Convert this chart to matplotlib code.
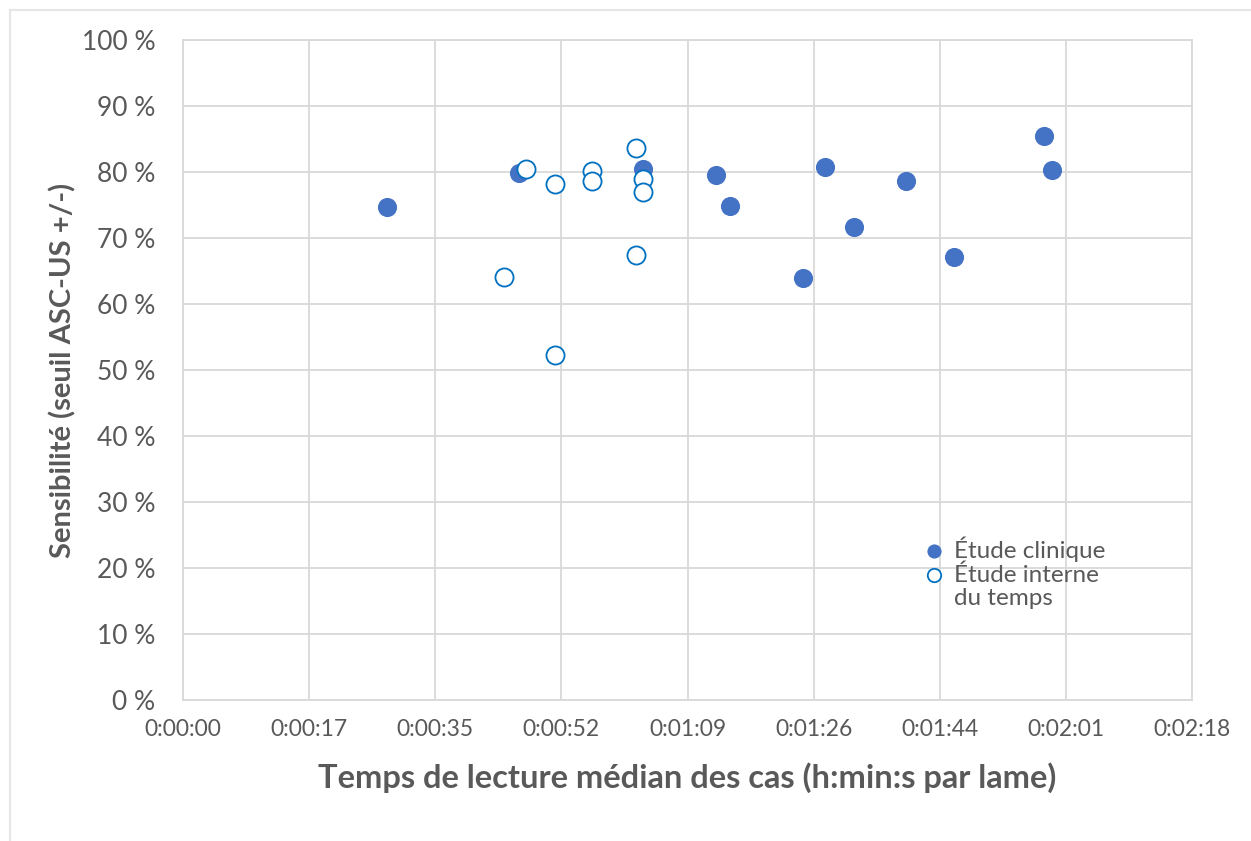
import matplotlib
matplotlib.use('Agg')
import matplotlib.pyplot as plt
from matplotlib.lines import Line2D
from matplotlib.ticker import FuncFormatter, MultipleLocator

plt.rcParams['font.family'] = ['Lato', 'DejaVu Sans']

# Median reading time (seconds per slide) and sensitivity (%)
clin_time = [28, 46, 63, 73, 75, 85, 88, 92, 99, 105.6, 118, 119]
clin_sens = [74.7, 79.9, 80.4, 79.5, 74.8, 64.0, 80.7, 71.6, 78.6, 67.1, 85.5, 80.3]

int_time = [44, 47, 51, 51, 56, 56, 62, 62, 63, 63]
int_sens = [64.1, 80.4, 78.2, 52.2, 80.2, 78.7, 83.6, 67.5, 79.0, 77.0]

tick_step = 17.28  # Excel axis unit 0.0002 day
grey = '#595959'
grid = '#d9d9d9'


def hms(v, pos):
    s = int(round(v))
    return f"{s // 3600}:{(s % 3600) // 60:02d}:{s % 60:02d}"


def pct(v, pos):
    return f"{v:.0f} %"


fig = plt.figure(figsize=(12.51, 8.41), dpi=100)
ax = fig.add_axes([183 / 1251, 141 / 841, 1009 / 1251, 660 / 841])

# outer chart-area frame (top and left edges visible)
fig.add_artist(Line2D([10 / 1251, 1], [1 - 10 / 841] * 2, color='#e6e6e6', lw=1.5,
                      transform=fig.transFigure))
fig.add_artist(Line2D([10 / 1251] * 2, [0, 1 - 10 / 841], color='#e6e6e6', lw=1.5,
                      transform=fig.transFigure))

sc1 = ax.scatter(clin_time, clin_sens, s=190, color='#4472C4', edgecolor='#4472C4',
                 linewidth=0, zorder=3)
sc2 = ax.scatter(int_time, int_sens, s=170, facecolor='white', edgecolor='#0070C0',
                 linewidth=1.3, zorder=4)

ax.set_xlim(0, tick_step * 8)
ax.set_ylim(0, 100)
ax.xaxis.set_major_locator(MultipleLocator(tick_step))
ax.yaxis.set_major_locator(MultipleLocator(10))
ax.xaxis.set_major_formatter(FuncFormatter(hms))
ax.yaxis.set_major_formatter(FuncFormatter(pct))

ax.grid(True, color=grid, lw=1.3)
ax.set_axisbelow(True)
for sp in ax.spines.values():
    sp.set_color(grid)
    sp.set_linewidth(1.3)
ax.tick_params(length=0, colors=grey)
ax.tick_params(axis='y', labelsize=19, pad=20)
ax.tick_params(axis='x', labelsize=16.5, pad=14)

ax.set_xlabel('Temps de lecture médian des cas (h:min:s par lame)', fontsize=23.5,
              fontweight='bold', color=grey, labelpad=16)
ax.set_ylabel('Sensibilité (seuil ASC-US +/-)', fontsize=21, fontweight='bold',
              color=grey, labelpad=4)

# second legend line carries the marker, the wrapped part has no handle
blank = Line2D([], [], lw=0, marker=None)
leg = ax.legend([sc1, sc2, blank], ['Étude clinique', 'Étude interne', 'du temps'],
                loc='upper left', bbox_to_anchor=(0.718, 0.263), frameon=False,
                fontsize=17.5, handletextpad=0.1, labelspacing=0.1, markerscale=0.74,
                handlelength=1.4, borderaxespad=0, labelcolor=grey)

fig.savefig('out.png', dpi=100)
